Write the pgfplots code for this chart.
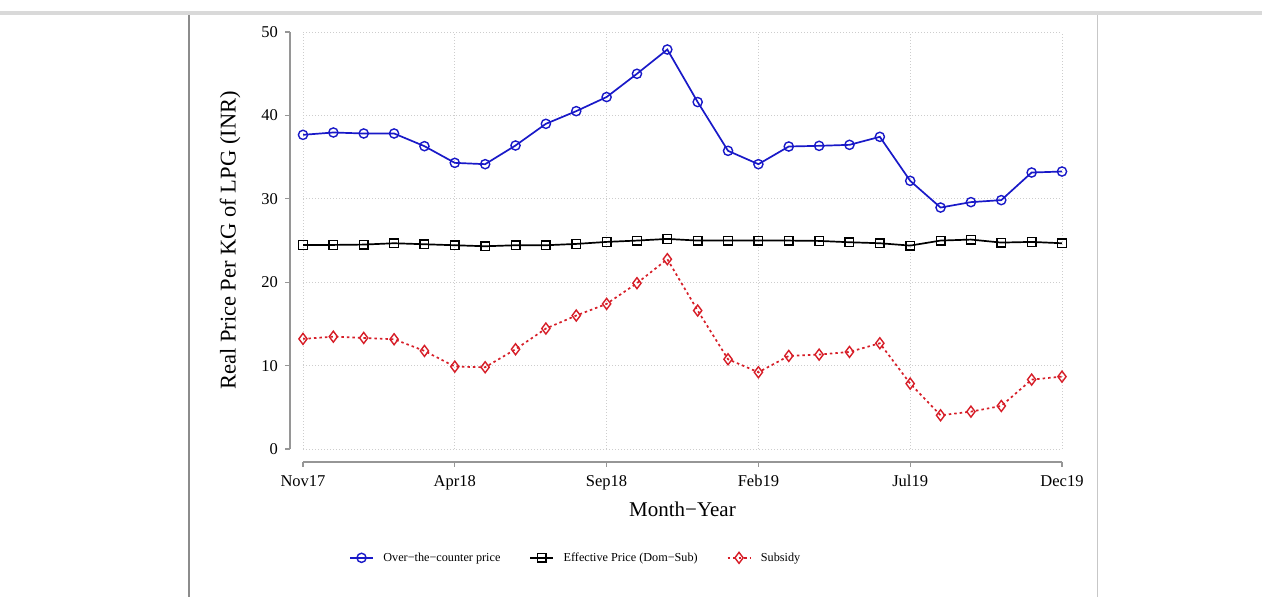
\documentclass[border=0pt]{standalone}
\usepackage{fontspec}
\setmainfont{Liberation Serif}
\usepackage{pgfplots}
\usepackage{pgfplotstable}
\pgfplotsset{compat=1.18}

\definecolor{otcblue}{RGB}{25,25,200}
\definecolor{subred}{RGB}{215,30,40}
\definecolor{axisgray}{RGB}{150,150,150}
\definecolor{gridgray}{RGB}{205,205,205}

% Monthly real LPG prices, Nov 2017 (t=0) to Dec 2019 (t=25)
\pgfplotstableread{
t  otc    eff    sub
0  37.67  24.47  13.20
1  37.95  24.47  13.47
2  37.83  24.51  13.32
3  37.83  24.67  13.16
4  36.31  24.55  11.76
5  34.31  24.43   9.88
6  34.15  24.31   9.80
7  36.39  24.43  11.96
8  38.99  24.43  14.44
9  40.51  24.59  16.00
10 42.20  24.83  17.40
11 44.99  24.99  19.88
12 47.90  25.19  22.76
13 41.60  24.99  16.60
14 35.75  24.99  10.76
15 34.15  24.99   9.20
16 36.27  24.99  11.16
17 36.35  24.95  11.32
18 36.47  24.79  11.64
19 37.43  24.67  12.68
20 32.15  24.39   7.84
21 28.95  24.99   4.04
22 29.60  25.11   4.48
23 29.84  24.75   5.16
24 33.15  24.83   8.32
25 33.27  24.67   8.68
}\lpgdata

\begin{document}
\begin{tikzpicture}[x=1pt,y=1pt]
\path[use as bounding box, fill=white] (0,0) rectangle (1262,597);
% page frame
\fill[black!15] (0,582) rectangle (1262,585.5);
\draw[black!45, line width=1.5pt] (189,0) -- (189,582);
\draw[black!22, line width=1.5pt] (1097.5,0) -- (1097.5,582);

\begin{axis}[
  at={(303pt,148pt)}, anchor=south west,
  scale only axis, width=759pt, height=417pt,
  xmin=0, xmax=25, ymin=0, ymax=50,
  xtick={0,5,10,15,20,25},
  xticklabels={Nov17,Apr18,Sep18,Feb19,Jul19,Dec19},
  ytick={0,10,20,30,40,50},
  axis x line*=bottom, axis y line*=left,
  axis x line shift=13pt, axis y line shift=13pt,
  axis line style={axisgray, line width=1.3pt},
  tick style={axisgray, line width=1.1pt},
  tick align=outside, major tick length=5pt,
  grid=major,
  major grid style={gridgray, dash pattern=on 1pt off 2pt, line width=0.9pt},
  /pgf/number format/assume math mode=true,
  ticklabel style={font=\fontsize{16.5}{18}\selectfont, inner sep=0pt},
  xticklabel shift=8pt,
  yticklabel shift=7pt,
  xlabel={Month−Year},
  ylabel={Real Price Per KG of LPG (INR)},
  xlabel style={font=\fontsize{21}{24}\selectfont, at={(axis description cs:0.5,0)}, anchor=base, yshift=-68pt, inner sep=0pt},
  ylabel style={font=\fontsize{22.5}{26}\selectfont, at={(axis description cs:-0.0962,0.5)}, anchor=center, inner sep=0pt},
  legend columns=3,
  legend style={at={(0.0606,-0.261)}, anchor=west, draw=none, fill=none,
    font=\fontsize{12.2}{14}\selectfont, inner sep=0pt,
    nodes={inner sep=0pt},
    /tikz/every odd column/.append style={column sep=9.5pt},
    /tikz/every even column/.append style={column sep=29pt}},
  legend image code/.code={
    \draw[mark repeat=2, mark phase=2, #1] plot coordinates {(0pt,0pt) (11.5pt,0pt) (23pt,0pt)};
  },
]
\addplot[otcblue, line width=1.7pt, mark=o, mark size=4.6pt, mark options={solid, line width=1.4pt}]
  table[x=t, y=otc] {\lpgdata};
\addlegendentry{Over−the−counter price}
\addplot[black, line width=1.7pt, mark=square, mark size=4.3pt, mark options={solid, line width=1.4pt}]
  table[x=t, y=eff] {\lpgdata};
\addlegendentry{Effective Price (Dom−Sub)}
\addplot[subred, line width=1.7pt, dash pattern=on 2.5pt off 3pt, mark=diamond, mark size=5.5pt, mark options={solid, line width=1.4pt}]
  table[x=t, y=sub] {\lpgdata};
\addlegendentry{Subsidy}
\end{axis}
\end{tikzpicture}
\end{document}
